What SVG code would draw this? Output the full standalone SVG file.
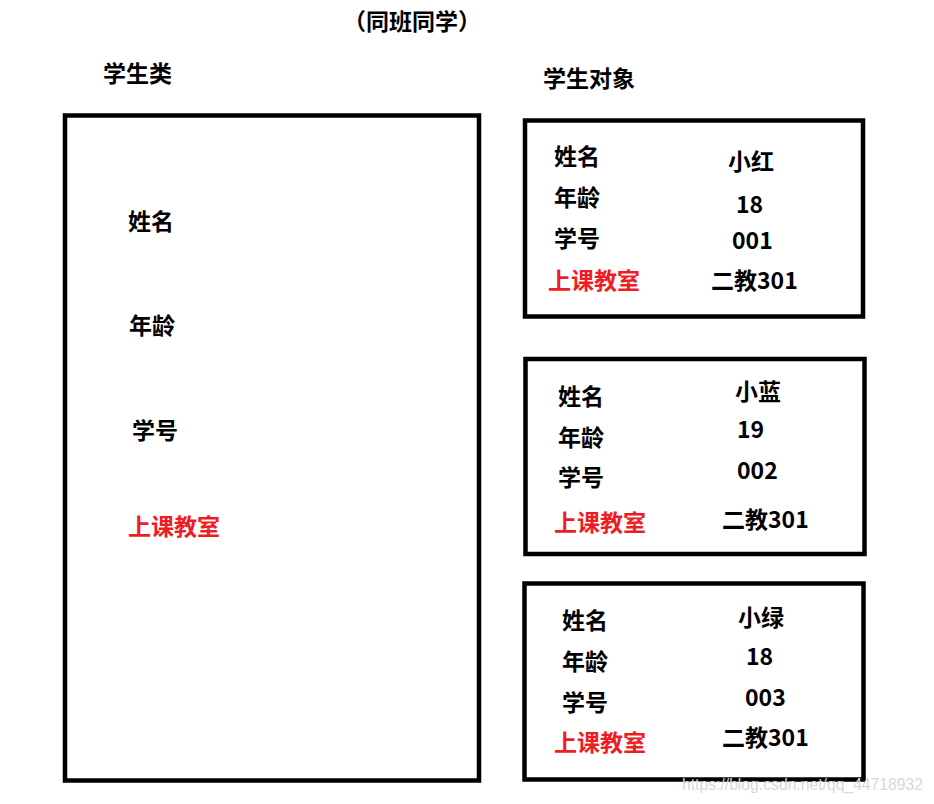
<svg xmlns="http://www.w3.org/2000/svg" width="934" height="804" viewBox="0 0 934 804">
<style>
  .t { font-family: "Noto Sans CJK SC", "Microsoft YaHei", sans-serif; font-weight: bold; font-size: 23px; fill: #000; }
  .r { fill: #ee1c25; }
  .box { fill: none; stroke: #000; stroke-width: 4.5; }
  .wm { font-family: "Liberation Sans", Arial, sans-serif; font-size: 16px; fill: #d8d8d8; }
</style>
<rect width="934" height="804" fill="#fff"/>
<g id="title">
  <text class="t" x="343" y="30" font-size="21.5">（同班同学）</text>
</g>
<g id="class-label"><text class="t" x="103" y="82" font-size="22.5">学生类</text></g>
<g id="object-label"><text class="t" x="543" y="87" font-size="22.5">学生对象</text></g>

<g id="student-class">
  <rect class="box" x="65" y="115.5" width="414" height="665"/>
  <text class="t" x="128" y="230">姓名</text>
  <text class="t" x="129" y="334">年龄</text>
  <text class="t" x="132" y="439">学号</text>
  <text class="t r" x="128" y="535">上课教室</text>
</g>

<g id="obj-red">
  <rect class="box" x="525" y="120.5" width="338" height="196"/>
  <text class="t" x="554" y="165">姓名</text>
  <text class="t" x="554" y="206">年龄</text>
  <text class="t" x="554" y="247">学号</text>
  <text class="t r" x="548" y="289">上课教室</text>
  <text class="t" x="728" y="170">小红</text>
  <text class="t" x="736" y="213">18</text>
  <text class="t" x="732" y="249">001</text>
  <text class="t" x="711" y="289">二教301</text>
</g>

<g id="obj-blue">
  <rect class="box" x="525.5" y="359" width="339" height="195"/>
  <text class="t" x="558" y="405">姓名</text>
  <text class="t" x="558" y="446">年龄</text>
  <text class="t" x="558" y="486">学号</text>
  <text class="t r" x="554" y="531">上课教室</text>
  <text class="t" x="735" y="400">小蓝</text>
  <text class="t" x="737" y="438">19</text>
  <text class="t" x="737" y="479">002</text>
  <text class="t" x="722" y="528">二教301</text>
</g>

<g id="obj-green">
  <rect class="box" x="524.5" y="583.5" width="339" height="196"/>
  <text class="t" x="562" y="629">姓名</text>
  <text class="t" x="562" y="670">年龄</text>
  <text class="t" x="562" y="711">学号</text>
  <text class="t r" x="554" y="751">上课教室</text>
  <text class="t" x="738" y="626">小绿</text>
  <text class="t" x="746" y="665">18</text>
  <text class="t" x="745" y="706">003</text>
  <text class="t" x="722" y="746">二教301</text>
</g>

<g id="connectors"></g>

<g id="watermark">
  <text class="wm" x="682" y="790" textLength="241" lengthAdjust="spacingAndGlyphs">https://blog.csdn.net/qq_44718932</text>
</g>
</svg>
